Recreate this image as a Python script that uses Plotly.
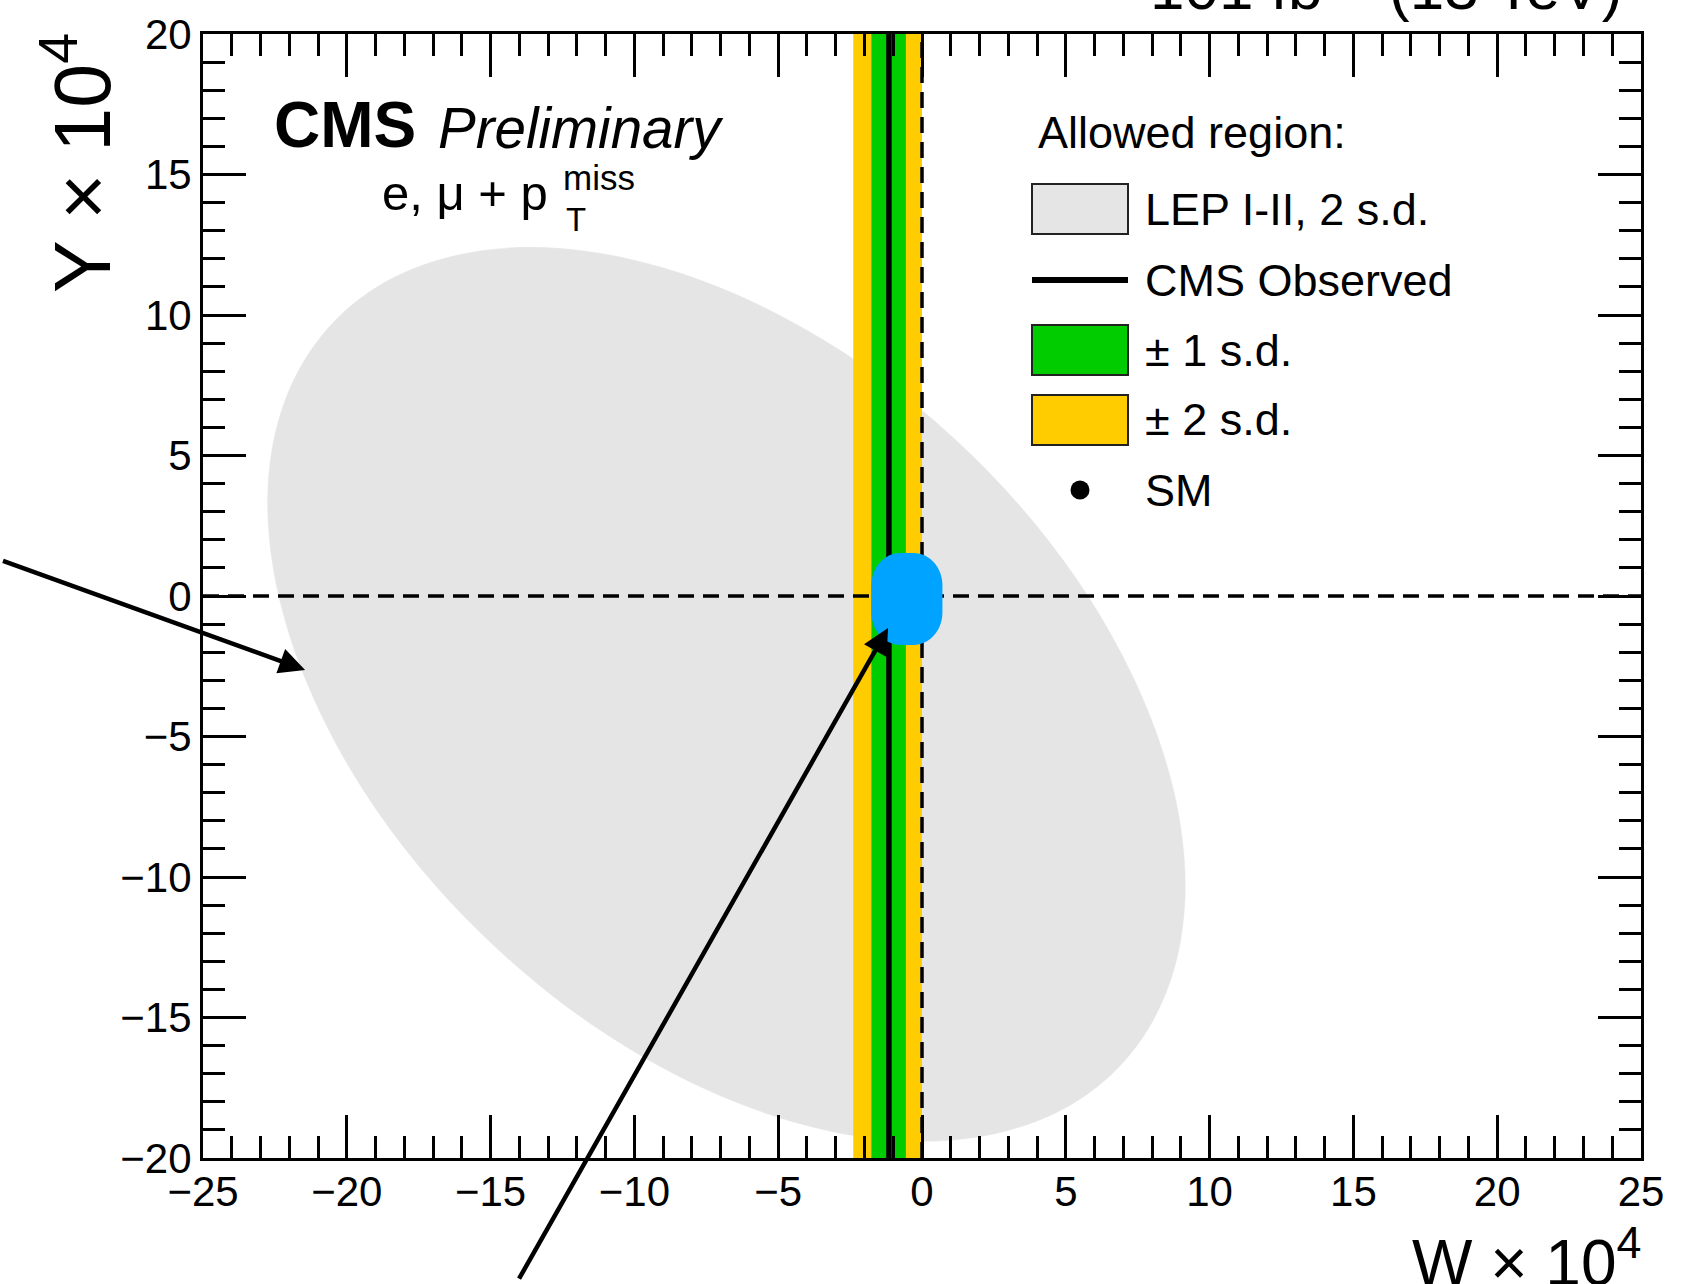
import plotly.graph_objects as go

# ---------------- data ----------------
# LEP I-II 2 s.d. allowed contour in the (W, Y) plane (x 10^4)
LEP_W = [6.70, 7.97, 8.79, 9.14, 9.00, 8.38, 7.30, 5.80, 3.91, 1.69, -0.78, -3.44,
         -6.20, -8.98, -11.69, -14.25, -16.59, -18.63, -20.30, -21.57, -22.39, -22.74,
         -22.60, -21.98, -20.90, -19.40, -17.51, -15.29, -12.82, -10.16, -7.40, -4.62,
         -1.91, 0.65, 2.99, 5.03, 6.70]
LEP_Y = [-16.91, -15.22, -13.18, -10.84, -8.27, -5.57, -2.80, -0.05, 2.59, 5.05, 7.25, 9.12,
         10.61, 11.67, 12.27, 12.39, 12.02, 11.19, 9.91, 8.22, 6.18, 3.84,
         1.27, -1.43, -4.20, -6.95, -9.59, -12.05, -14.25, -16.12, -17.61, -18.67,
         -19.27, -19.39, -19.02, -18.19, -16.91]

# CMS measurement of W (x 10^4)
CMS_OBS_W = -1.15
CMS_1SD_W = [-1.76, -0.56]
CMS_2SD_W = [-2.39, 0.00]

# Standard Model point
SM_W = [0.0]
SM_Y = [0.0]

# axis ranges and ticks
W_RANGE = [-25, 25]
Y_RANGE = [-20, 20]
TICK_STEP = 5
MINOR_STEP = 1

# ---------------- styling ----------------
FONT = "Liberation Sans, Arial, Helvetica, sans-serif"
GRAY = "#e5e5e5"
GREEN = "#00cc00"
YELLOW = "#ffcc00"
BLUE = "#00a3ff"

W_PX, H_PX = 1681, 1284
ML, MR, MT, MB = 203, 40, 34, 126
PLOT_W = W_PX - ML - MR
PLOT_H = H_PX - MT - MB


def px_x(px):
    return (px - ML) / PLOT_W


def px_y(py):
    return (H_PX - MB - py) / PLOT_H


fig = go.Figure()

# LEP allowed region
fig.add_trace(go.Scatter(
    x=LEP_W, y=LEP_Y, mode="lines", fill="toself", fillcolor=GRAY,
    line=dict(color=GRAY, width=0.5, shape="spline", smoothing=1.0),
    hoverinfo="skip", showlegend=False))

# +-2 s.d. and +-1 s.d. bands
for (lo, hi), col in ((CMS_2SD_W, YELLOW), (CMS_1SD_W, GREEN)):
    fig.add_trace(go.Scatter(
        x=[lo, hi, hi, lo, lo],
        y=[Y_RANGE[0], Y_RANGE[0], Y_RANGE[1], Y_RANGE[1], Y_RANGE[0]],
        mode="lines", fill="toself", fillcolor=col, line=dict(width=0, color=col),
        hoverinfo="skip", showlegend=False))

# observed value
fig.add_trace(go.Scatter(
    x=[CMS_OBS_W, CMS_OBS_W], y=Y_RANGE, mode="lines",
    line=dict(color="black", width=5.5), hoverinfo="skip", showlegend=False))

# SM reference lines
fig.add_trace(go.Scatter(
    x=W_RANGE, y=[SM_Y[0], SM_Y[0]], mode="lines",
    line=dict(color="black", width=3.5, dash="16px,9px"),
    hoverinfo="skip", showlegend=False))
fig.add_trace(go.Scatter(
    x=[SM_W[0], SM_W[0]], y=Y_RANGE, mode="lines",
    line=dict(color="black", width=3.5, dash="16px,9px"),
    hoverinfo="skip", showlegend=False))

# SM point
fig.add_trace(go.Scatter(
    x=SM_W, y=SM_Y, mode="markers", marker=dict(color="black", size=19),
    hoverinfo="skip", showlegend=False))

shapes = []

# highlight blob around the SM point
bx0, bx1, by0, by1 = -1.76, 0.71, -1.74, 1.53
rx, ry, k = 1.0, 1.15, 0.5523
blob = (
    f"M {bx0+rx},{by0} L {bx1-rx},{by0} "
    f"C {bx1-rx+k*rx},{by0} {bx1},{by0+ry-k*ry} {bx1},{by0+ry} "
    f"L {bx1},{by1-ry} "
    f"C {bx1},{by1-ry+k*ry} {bx1-rx+k*rx},{by1} {bx1-rx},{by1} "
    f"L {bx0+rx},{by1} "
    f"C {bx0+rx-k*rx},{by1} {bx0},{by1-ry+k*ry} {bx0},{by1-ry} "
    f"L {bx0},{by0+ry} "
    f"C {bx0},{by0+ry-k*ry} {bx0+rx-k*rx},{by0} {bx0+rx},{by0} Z"
)
shapes.append(dict(type="path", path=blob, xref="x", yref="y",
                   fillcolor=BLUE, line=dict(width=0), layer="above"))

# ---------------- legend (drawn by hand) ----------------
LEG_BOX_X = (1032, 1128)
LEG_TEXT_X = 1143
rows = [
    ("box", GRAY, 209, "LEP I-II, 2 s.d."),
    ("line", "black", 280, "CMS Observed"),
    ("box", GREEN, 350, "± 1 s.d."),
    ("box", YELLOW, 420, "± 2 s.d."),
    ("dot", "black", 490, "SM"),
]
annotations = []
annotations.append(dict(
    text="Allowed region:", x=px_x(1036), y=px_y(132), xref="paper", yref="paper",
    xanchor="left", yanchor="middle", showarrow=False,
    font=dict(family=FONT, size=45, color="black")))
for kind, col, cy, label in rows:
    if kind == "box":
        shapes.append(dict(type="rect", xref="paper", yref="paper",
                           x0=px_x(LEG_BOX_X[0]), x1=px_x(LEG_BOX_X[1]),
                           y0=px_y(cy + 25), y1=px_y(cy - 25),
                           fillcolor=col, line=dict(color="#222222", width=2),
                           layer="above"))
    elif kind == "line":
        shapes.append(dict(type="line", xref="paper", yref="paper",
                           x0=px_x(LEG_BOX_X[0]), x1=px_x(LEG_BOX_X[1]),
                           y0=px_y(cy), y1=px_y(cy),
                           line=dict(color=col, width=6), layer="above"))
    else:
        shapes.append(dict(type="circle", xref="paper", yref="paper",
                           x0=px_x(1070.5), x1=px_x(1089.5),
                           y0=px_y(cy + 9.5), y1=px_y(cy - 9.5),
                           fillcolor=col, line=dict(width=0), layer="above"))
    annotations.append(dict(
        text=label, x=px_x(LEG_TEXT_X), y=px_y(cy), xref="paper", yref="paper",
        xanchor="left", yanchor="middle", showarrow=False,
        font=dict(family=FONT, size=45, color="black")))

# ---------------- labels ----------------
annotations += [
    dict(text="<b>CMS</b>", x=px_x(272), y=px_y(125), xref="paper", yref="paper",
         xanchor="left", yanchor="middle", showarrow=False,
         font=dict(family=FONT, size=64, color="black")),
    dict(text="<i>Preliminary</i>", x=px_x(436), y=px_y(128), xref="paper", yref="paper",
         xanchor="left", yanchor="middle", showarrow=False,
         font=dict(family=FONT, size=56.5, color="black")),
    dict(text="e, μ + p", x=px_x(380), y=px_y(193), xref="paper", yref="paper",
         xanchor="left", yanchor="middle", showarrow=False,
         font=dict(family=FONT, size=49, color="black")),
    dict(text="miss", x=px_x(561), y=px_y(177), xref="paper", yref="paper",
         xanchor="left", yanchor="middle", showarrow=False,
         font=dict(family=FONT, size=35, color="black")),
    dict(text="T", x=px_x(564), y=px_y(220), xref="paper", yref="paper",
         xanchor="left", yanchor="middle", showarrow=False,
         font=dict(family=FONT, size=33, color="black")),
    # luminosity / energy
    dict(text="101 fb<sup>−1</sup> (13 TeV)", x=px_x(1624), y=px_y(24),
         xref="paper", yref="paper", xanchor="right", yanchor="bottom",
         showarrow=False, font=dict(family=FONT, size=62, color="black")),
    # axis titles
    dict(text="W × 10<sup>4</sup>", x=px_x(1643), y=px_y(1258),
         xref="paper", yref="paper", xanchor="right", yanchor="middle",
         showarrow=False, font=dict(family=FONT, size=64, color="black")),
    dict(text="Y × 10<sup>4</sup>", x=px_x(77), y=px_y(31), textangle=-90,
         xref="paper", yref="paper", xanchor="center", yanchor="top",
         showarrow=False, font=dict(family=FONT, size=79, color="black")),
    # arrows
    dict(text=" ", x=-21.45, y=-2.63, xref="x", yref="y", ax=-330, ay=-110,
         axref="pixel", ayref="pixel", showarrow=True, arrowhead=2,
         arrowsize=1.15, arrowwidth=4.5, arrowcolor="black"),
    dict(text=" ", x=-1.18, y=-1.14, xref="x", yref="y", ax=-372, ay=680,
         axref="pixel", ayref="pixel", showarrow=True, arrowhead=2,
         arrowsize=1.15, arrowwidth=4.5, arrowcolor="black"),
]

axis_common = dict(
    showgrid=False, zeroline=False, showline=True, linecolor="black", linewidth=3,
    mirror="allticks", ticks="inside", ticklen=43, tickwidth=2.5, tickcolor="black",
    dtick=TICK_STEP, tickfont=dict(family=FONT, size=42, color="black"),
    minor=dict(ticks="inside", ticklen=22, tickwidth=2.5, tickcolor="black",
               dtick=MINOR_STEP, showgrid=False),
    layer="above traces",
)

fig.update_layout(
    width=W_PX, height=H_PX, autosize=False,
    margin=dict(l=ML, r=MR, t=MT, b=MB, pad=0),
    paper_bgcolor="white", plot_bgcolor="white",
    font=dict(family=FONT, color="black"),
    xaxis=dict(range=W_RANGE, tick0=W_RANGE[0], ticklabelstandoff=-5, **axis_common),
    yaxis=dict(range=Y_RANGE, tick0=Y_RANGE[0], **axis_common),
    shapes=shapes, annotations=annotations, showlegend=False,
)

fig.write_html("out.html")
